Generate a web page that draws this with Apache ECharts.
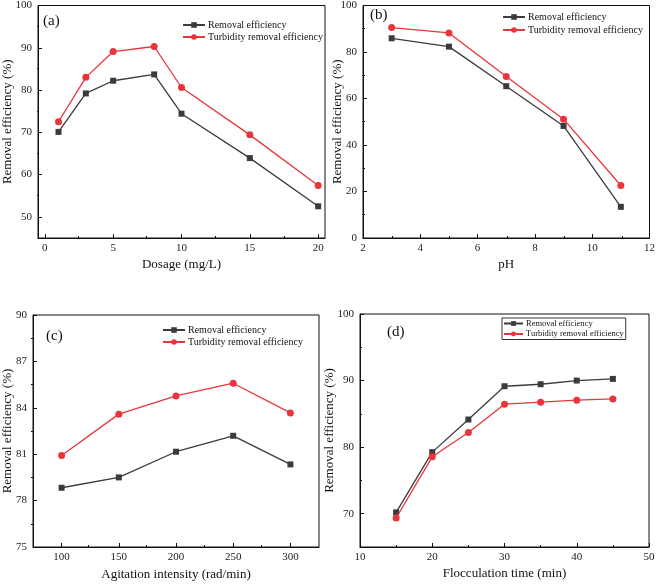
<!DOCTYPE html>
<html><head><meta charset="utf-8">
<script src="https://cdn.jsdelivr.net/npm/echarts@6/dist/echarts.min.js"></script>
<style>html,body{margin:0;padding:0;background:#fff}#c{width:658px;height:584px}</style>
</head><body><div id="c"></div>
<script>
// ---- data ----
const dosage = [1, 3, 5, 8, 10, 15, 20];
const dosageRemoval = [70.1, 79.2, 82.2, 83.7, 74.4, 63.9, 52.5];
const dosageTurbidity = [72.5, 83.0, 89.1, 90.3, 80.6, 69.4, 57.4];

const pH = [3, 5, 7, 9, 11];
const pHRemoval = [85.9, 82.3, 65.3, 48.2, 13.4];
const pHTurbidity = [90.5, 88.2, 69.5, 51.1, 22.6];

const agitation = [100, 150, 200, 250, 300];
const agitationRemoval = [78.83, 79.5, 81.16, 82.19, 80.34];
const agitationTurbidity = [80.92, 83.59, 84.77, 85.59, 83.67];

const flocTime = [15, 20, 25, 30, 35, 40, 45];
const flocRemoval = [70.2, 79.25, 84.15, 89.15, 89.45, 90.0, 90.25];
const flocTurbidity = [69.35, 78.55, 82.2, 86.45, 86.75, 87.05, 87.25];

// tick labels (major) and minor ticks
const aXMajor = [0, 5, 10, 15, 20], aXMinor = [2.5, 7.5, 12.5, 17.5];
const aYMajor = [50, 60, 70, 80, 90, 100], aYMinor = [55, 65, 75, 85, 95];
const bXMajor = [2, 4, 6, 8, 10, 12], bXMinor = [3, 5, 7, 9, 11];
const bYMajor = [0, 20, 40, 60, 80, 100], bYMinor = [10, 30, 50, 70, 90];
const cXMajor = [100, 150, 200, 250, 300], cXMinor = [125, 175, 225, 275];
const cYMajor = [75, 78, 81, 84, 87, 90], cYMinor = [76.5, 79.5, 82.5, 85.5, 88.5];
const dXMajor = [10, 20, 30, 40, 50], dXMinor = [15, 25, 35, 45];
const dYMajor = [70, 80, 90, 100], dYMinor = [75, 85, 95];

const seriesNames = ['Removal efficiency', 'Turbidity removal efficiency'];
const yTitle = 'Removal efficiency (%)';

// ---- layout / style ----
const FONT = 'Liberation Serif';
const DARK = '#3b3b3b', RED = '#e8353b';

const panels = [
  { rect: {left: 37, top: 5, width: 288, height: 233}, x: [-0.5, 20.5], y: [45, 100],
    xMaj: aXMajor, xMin: aXMinor, yMaj: aYMajor, yMin: aYMinor, xName: 'Dosage (mg/L)',
    xs: dosage, r: dosageRemoval, t: dosageTurbidity, tag: '(a)', tagPos: [43, 22],
    xGap: 20, yGap: 24, legend: {left: 182, top: 20, fs: 10, gap: 2, w: 22, h: 7, border: false} },
  { rect: {left: 363, top: 5, width: 288, height: 233}, x: [2, 12], y: [0, 100],
    xMaj: bXMajor, xMin: bXMinor, yMaj: bYMajor, yMin: bYMinor, xName: 'pH',
    xs: pH, r: pHRemoval, t: pHTurbidity, tag: '(b)', tagPos: [370, 16],
    xGap: 20, yGap: 19, legend: {left: 502, top: 12, fs: 10, gap: 3, w: 22, h: 7, border: false} },
  { rect: {left: 31, top: 315, width: 288, height: 232}, x: [75, 325], y: [75, 90],
    xMaj: cXMajor, xMin: cXMinor, yMaj: cYMajor, yMin: cYMinor, xName: 'Agitation intensity (rad/min)',
    xs: agitation, r: agitationRemoval, t: agitationTurbidity, tag: '(c)', tagPos: [46, 337],
    xGap: 21, yGap: 19, legend: {left: 162, top: 325, fs: 10, gap: 2, w: 22, h: 7, border: false} },
  { rect: {left: 360, top: 314, width: 289, height: 233}, x: [10, 50], y: [65, 100],
    xMaj: dXMajor, xMin: dXMinor, yMaj: dYMajor, yMin: dYMinor, xName: 'Flocculation time (min)',
    xs: flocTime, r: flocRemoval, t: flocTurbidity, tag: '(d)', tagPos: [387, 333],
    xGap: 20, yGap: 24, legend: {left: 502, top: 318, fs: 8.5, gap: 1.5, w: 19, h: 6, border: true} }
];

const grid = [], xAxis = [], yAxis = [], series = [], legend = [], graphic = [];
const labelStyle = {color: '#222', fontFamily: FONT, fontSize: 11};

panels.forEach((p) => {
  grid.push(Object.assign({show: true, borderColor: '#111', borderWidth: 1, containLabel: false}, p.rect));
});
panels.forEach((p) => {
  grid.push(Object.assign({show: false}, p.rect));
});

panels.forEach((p, i) => {
  xAxis.push({
    type: 'value', gridIndex: i, min: p.x[0], max: p.x[1], position: 'bottom',
    splitLine: {show: false},
    axisLine: {show: true, onZero: false, lineStyle: {color: '#111', width: 1}},
    axisTick: {show: true, inside: true, length: 4, customValues: p.xMaj, lineStyle: {color: '#111'}},
    axisLabel: Object.assign({customValues: p.xMaj, margin: 5, showMinLabel: true, showMaxLabel: true}, labelStyle),
    name: p.xName, nameLocation: 'middle', nameGap: p.xGap, nameMoveOverlap: false,
    nameTextStyle: {color: '#111', fontFamily: FONT, fontSize: 13}
  });
  yAxis.push({
    type: 'value', gridIndex: i, min: p.y[0], max: p.y[1], position: 'left',
    splitLine: {show: false},
    axisLine: {show: true, onZero: false, lineStyle: {color: '#111', width: 1}},
    axisTick: {show: true, inside: true, length: 4, customValues: p.yMaj, lineStyle: {color: '#111'}},
    axisLabel: Object.assign({customValues: p.yMaj, margin: 6, showMinLabel: true, showMaxLabel: true}, labelStyle),
    name: yTitle, nameLocation: 'middle', nameGap: p.yGap, nameMoveOverlap: false,
    nameTextStyle: {color: '#111', fontFamily: FONT, fontSize: 13}
  });
});
panels.forEach((p, i) => {
  xAxis.push({
    type: 'value', gridIndex: 4 + i, min: p.x[0], max: p.x[1], position: 'bottom',
    splitLine: {show: false}, axisLine: {show: false, onZero: false}, axisLabel: {show: false},
    axisTick: {show: true, inside: true, length: 2, customValues: p.xMin, lineStyle: {color: '#111'}}
  });
  yAxis.push({
    type: 'value', gridIndex: 4 + i, min: p.y[0], max: p.y[1], position: 'left',
    splitLine: {show: false}, axisLine: {show: false, onZero: false}, axisLabel: {show: false},
    axisTick: {show: true, inside: true, length: 2, customValues: p.yMin, lineStyle: {color: '#111'}}
  });
});

panels.forEach((p, i) => {
  series.push({
    type: 'line', name: seriesNames[0], xAxisIndex: i, yAxisIndex: i,
    data: p.xs.map((x, k) => [x, p.r[k]]),
    symbol: 'rect', symbolSize: 6, color: DARK,
    lineStyle: {color: DARK, width: 1.3}, itemStyle: {color: DARK},
    animation: false, z: 3
  });
  series.push({
    type: 'line', name: seriesNames[1], xAxisIndex: i, yAxisIndex: i,
    data: p.xs.map((x, k) => [x, p.t[k]]),
    symbol: 'circle', symbolSize: 7, color: RED,
    lineStyle: {color: RED, width: 1.3}, itemStyle: {color: RED},
    animation: false, z: 4
  });
  const L = p.legend;
  legend.push({
    data: seriesNames, orient: 'vertical', left: L.left, top: L.top,
    itemWidth: L.w, itemHeight: L.h, itemGap: L.gap,
    padding: L.border ? [1, 2, 1, 1] : 0,
    borderColor: L.border ? '#333' : 'transparent', borderWidth: L.border ? 1 : 0,
    textStyle: {color: '#111', fontFamily: FONT, fontSize: L.fs, padding: [0, 0, 0, -2]},
    selectedMode: false
  });
  graphic.push({
    type: 'text', left: p.tagPos[0], top: p.tagPos[1] - 8,
    style: {text: p.tag, fill: '#111', font: '15px "Liberation Serif"'}
  });
});

const chart = echarts.init(document.getElementById('c'), null, {renderer: 'canvas'});
chart.setOption({
  backgroundColor: '#fff', animation: false,
  grid, xAxis, yAxis, series, legend, graphic
});
</script>
</body></html>
